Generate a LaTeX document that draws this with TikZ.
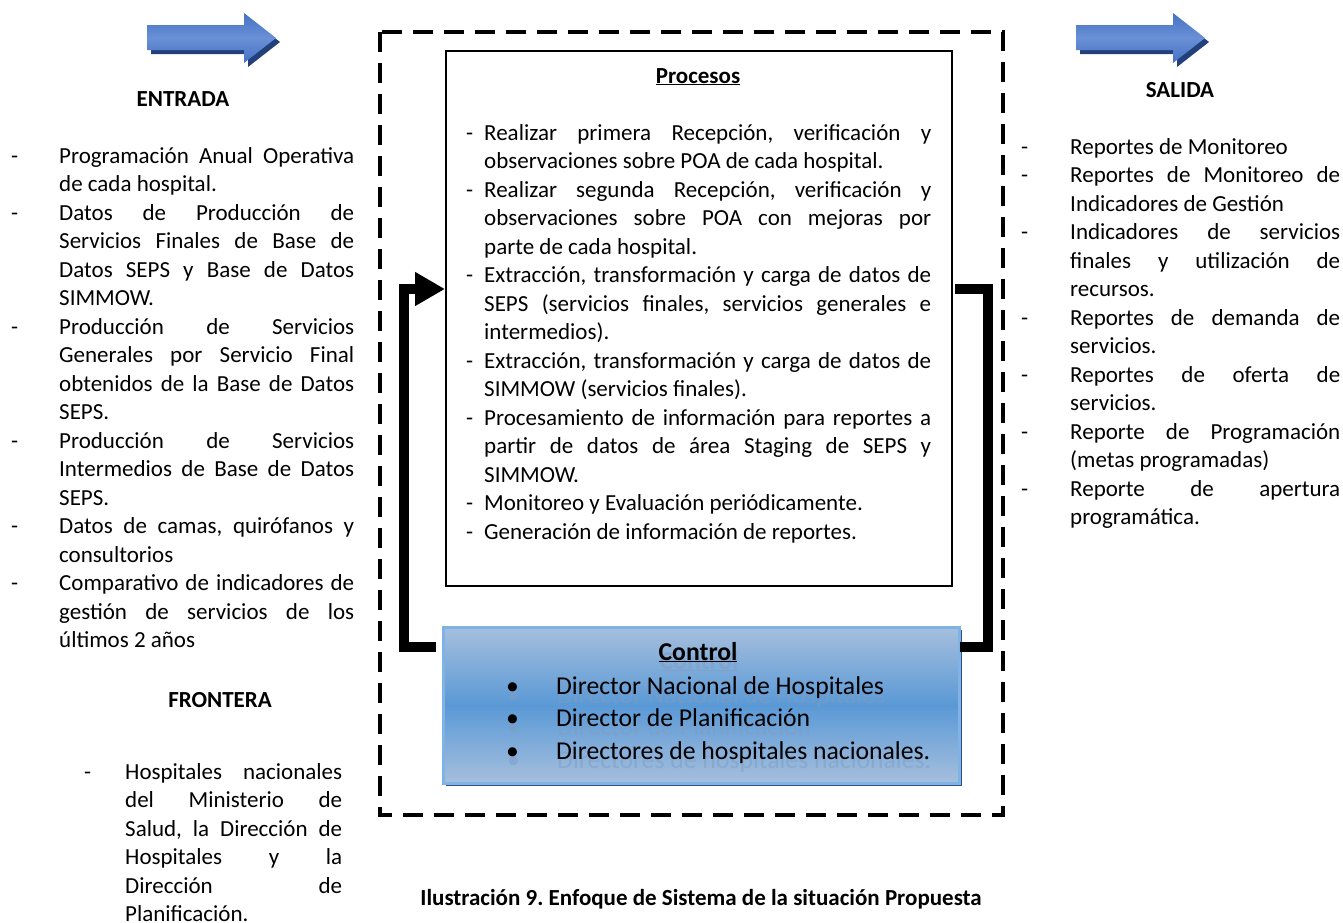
\documentclass[tikz,border=0pt]{standalone}
\usepackage{fontspec}
\setmainfont{Carlito}
\usetikzlibrary{arrows.meta, shadows, positioning}

\definecolor{arrowblue}{HTML}{4472C4}
\definecolor{arrowlight}{HTML}{6A90D6}
\definecolor{arrowshade}{HTML}{22407A}
\definecolor{ctrltop}{HTML}{A6BFDD}
\definecolor{ctrlmid}{HTML}{5A99D6}
\definecolor{ctrlrim}{HTML}{7FB2E5}
\definecolor{ctrlshade}{HTML}{2F5286}
\definecolor{ghost}{HTML}{7F9CC2}

\newcommand{\dashitem}[2]{\hangindent=#1\hangafter=1\makebox[#1][l]{-}#2\par}
\newcommand{\dotitem}[1]{\makebox[50pt][l]{\textbullet}#1\par}

\begin{document}
\frenchspacing
\begin{tikzpicture}[
    x=1pt, y=-1pt,
    heading/.style={font=\fontsize{23}{28.5}\selectfont\bfseries, inner sep=0pt, anchor=base},
    listtext/.style={font=\fontsize{23}{28.5}\selectfont, inner sep=0pt, anchor=base west, align=justify},
    procbox/.style={draw, line width=1.5pt, minimum width=506pt, minimum height=535pt, anchor=north west, inner sep=0pt},
    ctrlbox/.style={draw=ctrlrim, line width=2.5pt, top color=ctrltop, bottom color=ctrltop, middle color=ctrlmid,
        minimum width=516pt, minimum height=156pt, anchor=north west, inner sep=0pt,
        drop shadow={shadow xshift=3pt, shadow yshift=-3pt, fill=ctrlshade, opacity=1}},
    frame/.style={line width=4pt, dash pattern=on 20pt off 11pt},
    feedback/.style={line width=10pt},
    >={Triangle[length=30pt, width=32pt]}
]
\useasboundingbox (0,0) rectangle (1343,922);

% --- Block arrows (entrada / salida) ---
\foreach \dx in {0,929}
{
    \fill[arrowshade, shift={(\dx+4,4)}] (147,25) -- (244,25) -- (244,13) -- (276,38) -- (244,63) -- (244,50) -- (147,50) -- cycle;
    \shade[top color=arrowblue, bottom color=arrowblue, middle color=arrowlight, shift={(\dx,0)}]
        (147,25) -- (244,25) -- (244,13) -- (276,38) -- (244,63) -- (244,50) -- (147,50) -- cycle;
}

% --- Headings ---
\node[heading] (entrada) at (183,106) {ENTRADA};
\node[heading] (salida) at (1180,97) {SALIDA};
\node[heading] (frontera) at (220,707) {FRONTERA};

% --- System frame ---
\draw[frame] (380,32) rectangle (1003,815);

% --- Process box ---
\node[procbox] (proc) at (445,50) {};
\node[heading] (proctitle) at (698,83) {\underline{Procesos}};
\node[listtext, text width=465pt] (proclist) at (466,140) {%
\dashitem{18pt}{Realizar primera Recepción, verificación y\linebreak observaciones sobre POA de cada hospital.}
\dashitem{18pt}{Realizar segunda Recepción, verificación y\linebreak observaciones sobre POA con mejoras por\linebreak parte de cada hospital.}
\dashitem{18pt}{Extracción, transformación y carga de datos de\linebreak SEPS (servicios finales, servicios generales e\linebreak intermedios).}
\dashitem{18pt}{Extracción, transformación y carga de datos de\linebreak SIMMOW (servicios finales).}
\dashitem{18pt}{Procesamiento de información para reportes a\linebreak partir de datos de área Staging de SEPS y\linebreak SIMMOW.}
\dashitem{18pt}{Monitoreo y Evaluación periódicamente.}
\dashitem{18pt}{Generación de información de reportes.}%
};

% --- Control box ---
\node[ctrlbox] (ctrl) at (442,626) {};
\node[heading, font=\fontsize{25.7}{32.5}\selectfont\bfseries, text=ghost, opacity=0.5] (ctrlghosttitle) at (699,669) {\underline{Control}};
\node[listtext, font=\fontsize{25.7}{32.5}\selectfont, text width=440pt, text=ghost, opacity=0.5] (ctrlghost) at (507,703) {%
\dotitem{Director Nacional de Hospitales}
\dotitem{Director de Planificación}
\dotitem{Directores de hospitales nacionales.}%
};
\node[heading, font=\fontsize{25.7}{32.5}\selectfont\bfseries] (ctrltitle) at (698,660) {\underline{Control}};
\node[listtext, font=\fontsize{25.7}{32.5}\selectfont, text width=440pt] (ctrllist) at (506,694) {%
\dotitem{Director Nacional de Hospitales}
\dotitem{Director de Planificación}
\dotitem{Directores de hospitales nacionales.}%
};

% --- Feedback loop ---
\coordinate (ctrlL) at (436,647);
\coordinate (procR) at (955,289);
\coordinate (ctrlR) at (960,647);
\draw[feedback, ->] (ctrlL) -- ++(-32,0) |- (proc.west |- 0,289);
\draw[feedback] (procR) -- ++(33,0) |- (ctrlR);

% --- Entrada list ---
\node[listtext, text width=343pt] (inlist) at (11,163) {%
\dashitem{48pt}{Programación Anual Operativa\linebreak de cada hospital.}
\dashitem{48pt}{Datos de Producción de\linebreak Servicios Finales de Base de\linebreak Datos SEPS y Base de Datos\linebreak SIMMOW.}
\dashitem{48pt}{Producción de Servicios\linebreak Generales por Servicio Final\linebreak obtenidos de la Base de Datos\linebreak SEPS.}
\dashitem{48pt}{Producción de Servicios\linebreak Intermedios de Base de Datos\linebreak SEPS.}
\dashitem{48pt}{Datos de camas, quirófanos y\linebreak consultorios}
\dashitem{48pt}{Comparativo de indicadores de\linebreak gestión de servicios de los\linebreak últimos 2 años}%
};

% --- Frontera list ---
\node[listtext, text width=258pt] (borderlist) at (84,779) {%
\dashitem{41pt}{Hospitales nacionales\linebreak del Ministerio de\linebreak Salud, la Dirección de\linebreak Hospitales y la\linebreak Dirección de\linebreak Planificación.}%
};

% --- Salida list ---
\node[listtext, text width=319pt] (outlist) at (1021,154) {%
\dashitem{49pt}{Reportes de Monitoreo}
\dashitem{49pt}{Reportes de Monitoreo de\linebreak Indicadores de Gestión}
\dashitem{49pt}{Indicadores de servicios\linebreak finales y utilización de\linebreak recursos.}
\dashitem{49pt}{Reportes de demanda de\linebreak servicios.}
\dashitem{49pt}{Reportes de oferta de\linebreak servicios.}
\dashitem{49pt}{Reporte de Programación\linebreak (metas programadas)}
\dashitem{49pt}{Reporte de apertura\linebreak programática.}%
};

% --- Caption ---
\node[heading] (caption) at (701,905) {Ilustración 9. Enfoque de Sistema de la situación Propuesta};

\end{tikzpicture}
\end{document}
